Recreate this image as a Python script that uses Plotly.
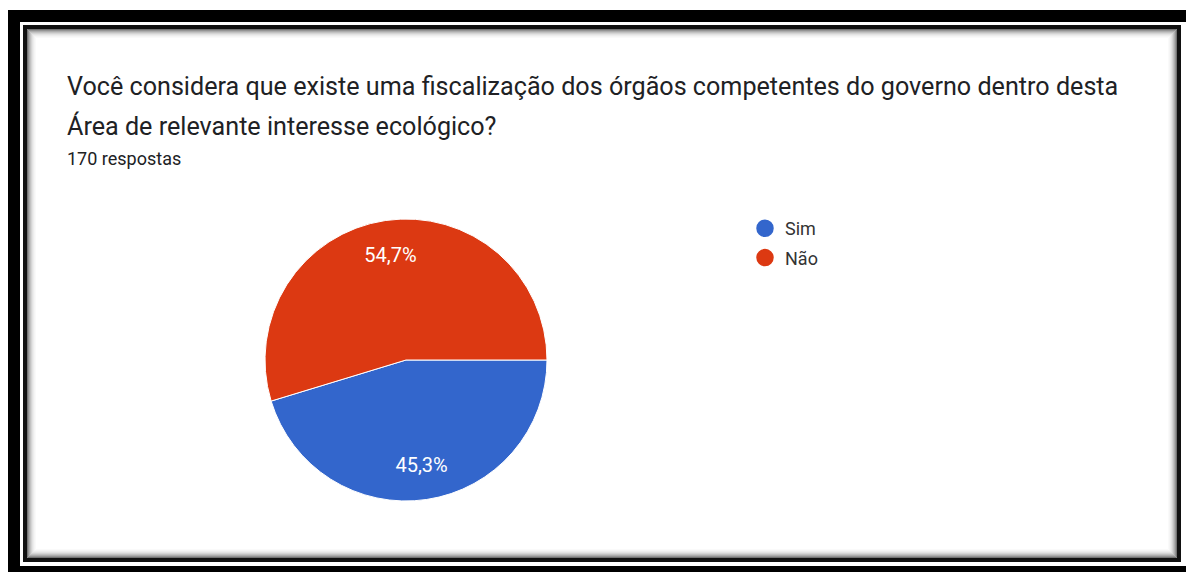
import plotly.graph_objects as go

# Survey answers
categories = ["Sim", "Não"]
counts = [77, 93]
colors = ["#3366cc", "#dc3912"]
question_lines = [
    "Você considera que existe uma fiscalização dos órgãos competentes do governo dentro desta",
    "Área de relevante interesse ecológico?",
]
responses_label = "170 respostas"

W, H = 1186, 572


def px(x):
    return x / W


def py(y):
    return 1 - y / H


fig = go.Figure()

# Pie centred at (406, 360) px with radius 141 px
cx, cy, r = 406, 360, 141
pie_domain = dict(x=[px(cx - r), px(cx + r)], y=[py(cy + r), py(cy - r)])
fig.add_trace(go.Pie(
    labels=categories,
    values=counts,
    sort=False,
    direction="clockwise",
    rotation=90,
    marker=dict(colors=colors, line=dict(color="white", width=1)),
    textinfo="none",
    showlegend=False,
    hoverinfo="label+percent",
    domain=pie_domain,
))
# Transparent ring on top carrying the percentage labels in the outer band
fig.add_trace(go.Pie(
    labels=categories,
    values=counts,
    sort=False,
    direction="clockwise",
    rotation=90,
    hole=0.5,
    marker=dict(colors=["rgba(0,0,0,0)"] * len(categories), line=dict(width=0)),
    texttemplate="%{percent:.1%}",
    textposition="inside",
    insidetextorientation="horizontal",
    insidetextfont=dict(family="Roboto", size=20, color="white"),
    showlegend=False,
    hoverinfo="skip",
    domain=pie_domain,
))

# Legend entries with circular swatches
for i, (name, col) in enumerate(zip(categories, colors)):
    fig.add_trace(go.Scatter(
        x=[None], y=[None], mode="markers", name=name,
        marker=dict(symbol="circle", size=16, color=col, line=dict(color=col, width=1.5)),
        legendgroup=f"g{i}", hoverinfo="skip",
    ))

shapes = []
# Outer black frame
shapes.append(dict(type="rect", xref="paper", yref="paper",
                   x0=px(8), x1=px(1200), y0=py(590), y1=py(10),
                   fillcolor="black", line=dict(width=0), layer="below"))
# White gap between frames
shapes.append(dict(type="rect", xref="paper", yref="paper",
                   x0=px(20), x1=px(1200), y0=py(566), y1=py(22),
                   fillcolor="white", line=dict(width=0), layer="below"))
# Inner dark border
shapes.append(dict(type="rect", xref="paper", yref="paper",
                   x0=px(23), x1=px(1181), y0=py(562), y1=py(25),
                   fillcolor="#111111", line=dict(width=0), layer="below"))
# Card body
shapes.append(dict(type="rect", xref="paper", yref="paper",
                   x0=px(27), x1=px(1177), y0=py(558), y1=py(29),
                   fillcolor="white", line=dict(width=0), layer="below"))
# Inner shadow along the card edges
shadow_alpha = [0.55, 0.42, 0.32, 0.24, 0.17, 0.11, 0.07, 0.04, 0.02]
for k, a in enumerate(shadow_alpha):
    shapes.append(dict(type="rect", xref="paper", yref="paper",
                       x0=px(27.5 + k), x1=px(1176.5 - k),
                       y0=py(557.5 - k), y1=py(29.5 + k),
                       fillcolor="rgba(0,0,0,0)",
                       line=dict(color=f"rgba(0,0,0,{a})", width=1), layer="below"))

annotations = [
    dict(text=question_lines[0], x=px(65), y=py(87), xref="paper", yref="paper",
         xanchor="left", yanchor="middle", showarrow=False,
         font=dict(family="Roboto", size=25.15, color="#202124")),
    dict(text=question_lines[1], x=px(65), y=py(126), xref="paper", yref="paper",
         xanchor="left", yanchor="middle", showarrow=False,
         font=dict(family="Roboto", size=25.15, color="#202124")),
    dict(text=responses_label, x=px(65), y=py(158), xref="paper", yref="paper",
         xanchor="left", yanchor="middle", showarrow=False,
         font=dict(family="Roboto", size=18, color="#202124")),
]

fig.update_layout(
    width=W, height=H,
    margin=dict(l=0, r=0, t=0, b=0),
    paper_bgcolor="white", plot_bgcolor="rgba(0,0,0,0)",
    separators=",.",
    xaxis=dict(visible=False), yaxis=dict(visible=False),
    shapes=shapes, annotations=annotations,
    legend=dict(x=px(745), y=py(210), xanchor="left", yanchor="top",
                font=dict(family="Roboto", size=18, color="#333333"),
                tracegroupgap=3, bgcolor="rgba(0,0,0,0)"),
    showlegend=True,
)

fig.write_html("out.html")
